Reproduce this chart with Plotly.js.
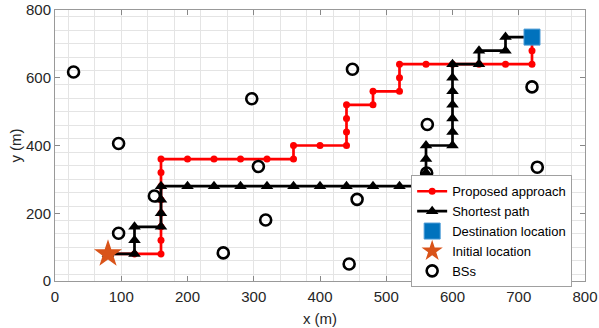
<!DOCTYPE html>
<html>
<head>
<meta charset="utf-8">
<script src="https://cdn.plot.ly/plotly-3.0.1.min.js"></script>
<style>
  html, body { margin: 0; padding: 0; background: #fff; }
  #chart { width: 599px; height: 328px; }
</style>
</head>
<body>
<div id="chart"></div>
<script>
// proposed approach (red)
const propX = [80, 120, 160, 160, 160, 160, 160, 160, 160, 160, 200, 240, 280, 320, 360, 360, 400, 440, 440, 440, 440, 480, 480, 520, 520, 520, 560, 600, 640, 680, 720, 720, 720];
const propY = [80, 80, 80, 120, 160, 200, 240, 280, 320, 360, 360, 360, 360, 360, 360, 400, 400, 400, 440, 480, 520, 520, 560, 560, 600, 640, 640, 640, 640, 640, 640, 680, 720];

// shortest path (black)
const shortX = [80, 120, 120, 120, 160, 160, 160, 160, 200, 240, 280, 320, 360, 400, 440, 480, 520, 560, 560, 560, 560, 600, 600, 600, 600, 600, 600, 600, 640, 640, 680, 680, 720];
const shortY = [80, 80, 120, 160, 160, 200, 240, 280, 280, 280, 280, 280, 280, 280, 280, 280, 280, 280, 320, 360, 400, 400, 440, 480, 520, 560, 600, 640, 640, 680, 680, 720, 720];

const destX = [720], destY = [720];
const initX = [80], initY = [80];

// base stations
const bsX = [28, 297, 96, 307, 449, 720, 562, 728, 150, 318, 96, 254, 456, 444, 561];
const bsY = [617, 538, 406, 338, 625, 573, 462, 336, 251, 180, 141, 83, 241, 50, 319];

const font = "Liberation Sans, Arial, sans-serif";
const ink = "#262626";

const traces = [
    {
        x: propX, y: propY, name: "Proposed approach",
        type: "scatter", mode: "lines+markers",
        line: {color: "#ff0000", width: 2.7},
        marker: {color: "#ff0000", size: 7, symbol: "circle"},
    },
    {
        x: shortX, y: shortY, name: "Shortest path",
        type: "scatter", mode: "lines+markers",
        line: {color: "#000000", width: 2.7},
        marker: {color: "#000000", size: 11, symbol: "triangle-up"},
    },
    {
        x: destX, y: destY, name: "Destination location",
        type: "scatter", mode: "markers",
        marker: {color: "#0072BD", size: 16, symbol: "square", line: {color: "#4a9ad6", width: 1}},
    },
    {
        x: initX, y: initY, name: "Initial location",
        type: "scatter", mode: "markers",
        marker: {color: "#D95319", size: 21, symbol: "star", line: {width: 0}},
    },
    {
        x: bsX, y: bsY, name: "BSs",
        type: "scatter", mode: "markers",
        marker: {color: "#000000", size: 11, symbol: "circle-open", line: {color: "#000000", width: 2.6}},
    },
    // empty trace to hold the grid overlay axes
    {x: [], y: [], xaxis: "x2", yaxis: "y2", showlegend: false, hoverinfo: "skip", type: "scatter"},
];

const layout = {
    width: 599,
    height: 328,
    margin: {l: 55, r: 14, t: 10, b: 47},
    paper_bgcolor: "#ffffff",
    plot_bgcolor: "#ffffff",
    font: {family: font, size: 15, color: ink},
    showlegend: true,
    legend: {
        x: 0.672, y: 0.39, xanchor: "left", yanchor: "top",
        bgcolor: "#ffffff", bordercolor: "#a0a0a0", borderwidth: 1,
        font: {family: font, size: 13, color: "#000000"},
        itemwidth: 30, tracegroupgap: 0,
    },
    xaxis: {
        range: [0, 800], dtick: 100, tick0: 0,
        showgrid: false, zeroline: false,
        ticks: "inside", ticklen: 5, tickcolor: "#888",
        showline: true, linecolor: "#999", linewidth: 1, mirror: "ticks",
        ticklabelstandoff: 2,
        title: {text: "x (m)", font: {size: 15, color: ink}, standoff: 9},
    },
    yaxis: {
        range: [0, 800], dtick: 200, tick0: 0,
        showgrid: false, zeroline: false,
        ticks: "inside", ticklen: 5, tickcolor: "#888",
        showline: true, linecolor: "#999", linewidth: 1, mirror: "ticks",
        title: {text: "y (m)", font: {size: 15, color: ink}, standoff: 0},
    },
    xaxis2: {
        overlaying: "x", anchor: "y2", range: [0, 800],
        tick0: 20, dtick: 40, showgrid: true, gridcolor: "#e4e4e4", gridwidth: 1,
        showticklabels: false, ticks: "", zeroline: false, showline: false,
    },
    yaxis2: {
        overlaying: "y", anchor: "x2", range: [0, 800],
        tick0: 20, dtick: 40, showgrid: true, gridcolor: "#e4e4e4", gridwidth: 1,
        showticklabels: false, ticks: "", zeroline: false, showline: false,
    },
};

Plotly.newPlot("chart", traces, layout, {displayModeBar: false, staticPlot: true});
</script>
</body>
</html>
